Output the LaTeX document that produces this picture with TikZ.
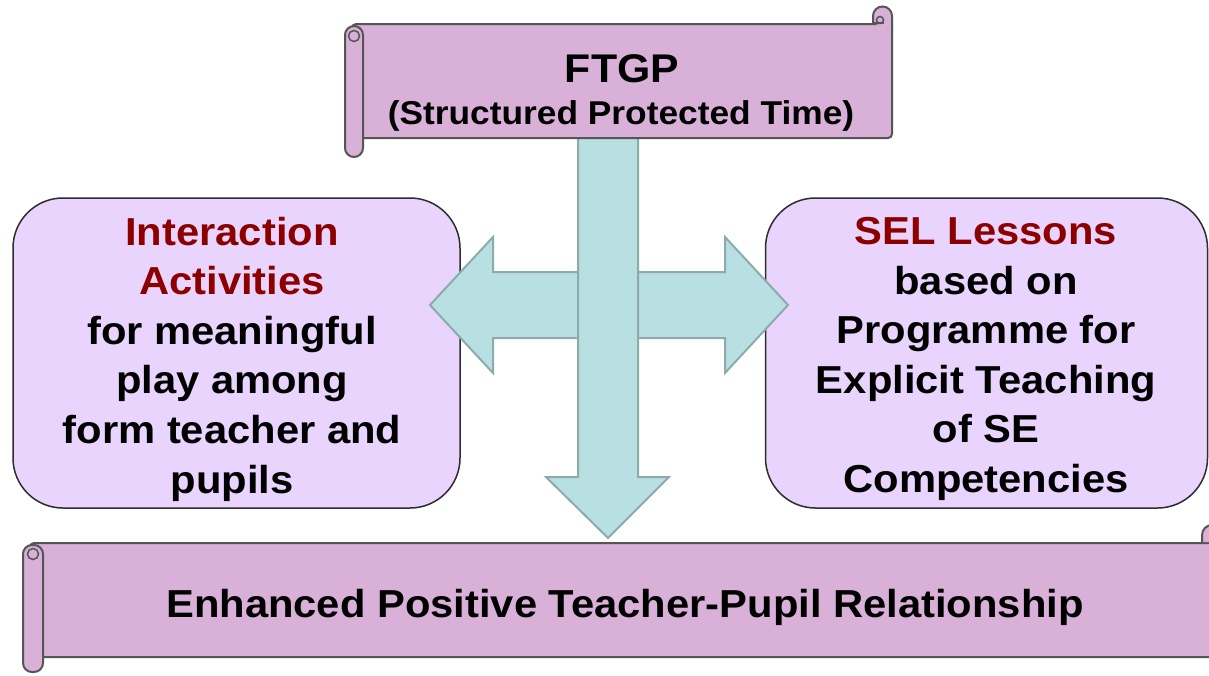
\documentclass[tikz,border=0pt]{standalone}
\usepackage{fontspec}
\setmainfont{Liberation Sans}[FakeStretch=1.07]
\definecolor{scrollc}{RGB}{216,176,216}
\definecolor{scrolle}{RGB}{85,85,85}
\definecolor{boxc}{RGB}{232,212,252}
\definecolor{boxe}{RGB}{45,45,45}
\definecolor{arrc}{RGB}{184,223,225}
\definecolor{arre}{RGB}{140,172,172}
\definecolor{darkred}{RGB}{140,0,0}
\begin{document}
\begin{tikzpicture}[x=1pt,y=-1pt,
  scrollf/.style={fill=scrollc, draw=scrolle, line width=2pt},
  boxf/.style={draw=boxe, fill=boxc, line width=1.5pt, rounded corners=50pt, inner sep=0pt},
  arrf/.style={fill=arrc, draw=arre, line width=2pt, line join=miter},
  bigtext/.style={font=\bfseries\fontsize{39}{49.6}\selectfont, align=center, inner sep=0pt},
  redt/.style={text=darkred}]
\useasboundingbox (0,0) rectangle (1209,675);
\clip (0,0) rectangle (1209,675);
\fill[white] (0,0) rectangle (1209,675);

% boxes
\node[boxf, minimum width=447pt, minimum height=310pt] (leftbox) at (236.5,353) {};
\node[boxf, minimum width=442pt, minimum height=310pt] (rightbox) at (986.5,353) {};

% arrows
\draw[arrf] (430,305) -- (493,237) -- (493,272) -- (725,272) -- (725,237) -- (788,305)
  -- (725,373) -- (725,338) -- (493,338) -- (493,373) -- cycle;
\draw[arrf] (578,130) -- (638,130) -- (638,477) -- (669,477) -- (608,538) -- (546,477)
  -- (578,477) -- cycle;

% top scroll
\draw[scrollf, rounded corners=4pt] (352,24) -- (892,24) -- (892,138) -- (352,138) -- cycle;
\filldraw[scrollf] (873,23) -- (873,16) arc[start angle=180, end angle=360, radius=9.5] -- (892,30);
\draw[scrolle, line width=1.5pt] (880,20) circle[radius=3.5];
\draw[scrolle, line width=1.5pt] (873,23) -- (884,23);
\draw[scrollf, rounded corners=9pt] (345,26) rectangle (363,157);
\draw[scrolle, line width=1.5pt] (354,36) circle[radius=5.5];

% bottom scroll
\draw[scrollf, rounded corners=4pt] (30,543) -- (1230,543) -- (1230,657) -- (30,657) -- cycle;
\filldraw[scrollf] (1202,542) -- (1202,535) arc[start angle=180, end angle=360, radius=10] -- (1222,542);
\draw[scrollf, rounded corners=9pt] (23,545) rectangle (43,672);
\draw[scrolle, line width=1.5pt] (33,554) circle[radius=5.5];

% texts
\node[inner sep=0pt, anchor=base, font=\bfseries\fontsize{40}{48}\selectfont] (ftgp) at (622,82) {FTGP};
\node[inner sep=0pt, anchor=base, font=\bfseries\fontsize{33}{40}\selectfont] (sub) at (621,124) {(Structured Protected Time)};
\node[inner sep=0pt, anchor=base, font=\bfseries\fontsize{39}{48}\selectfont] (enh) at (625,617) {Enhanced Positive Teacher-Pupil Relationship};

\node[bigtext] (lefttext) at (232,359) {\textcolor{darkred}{Interaction}\\\textcolor{darkred}{Activities}\\for meaningful\\play among\\form teacher and\\pupils};
\node[bigtext] (righttext) at (986,359) {\textcolor{darkred}{SEL Lessons}\\based on\\Programme for\\Explicit Teaching\\of SE\\Competencies};
\end{tikzpicture}
\end{document}
